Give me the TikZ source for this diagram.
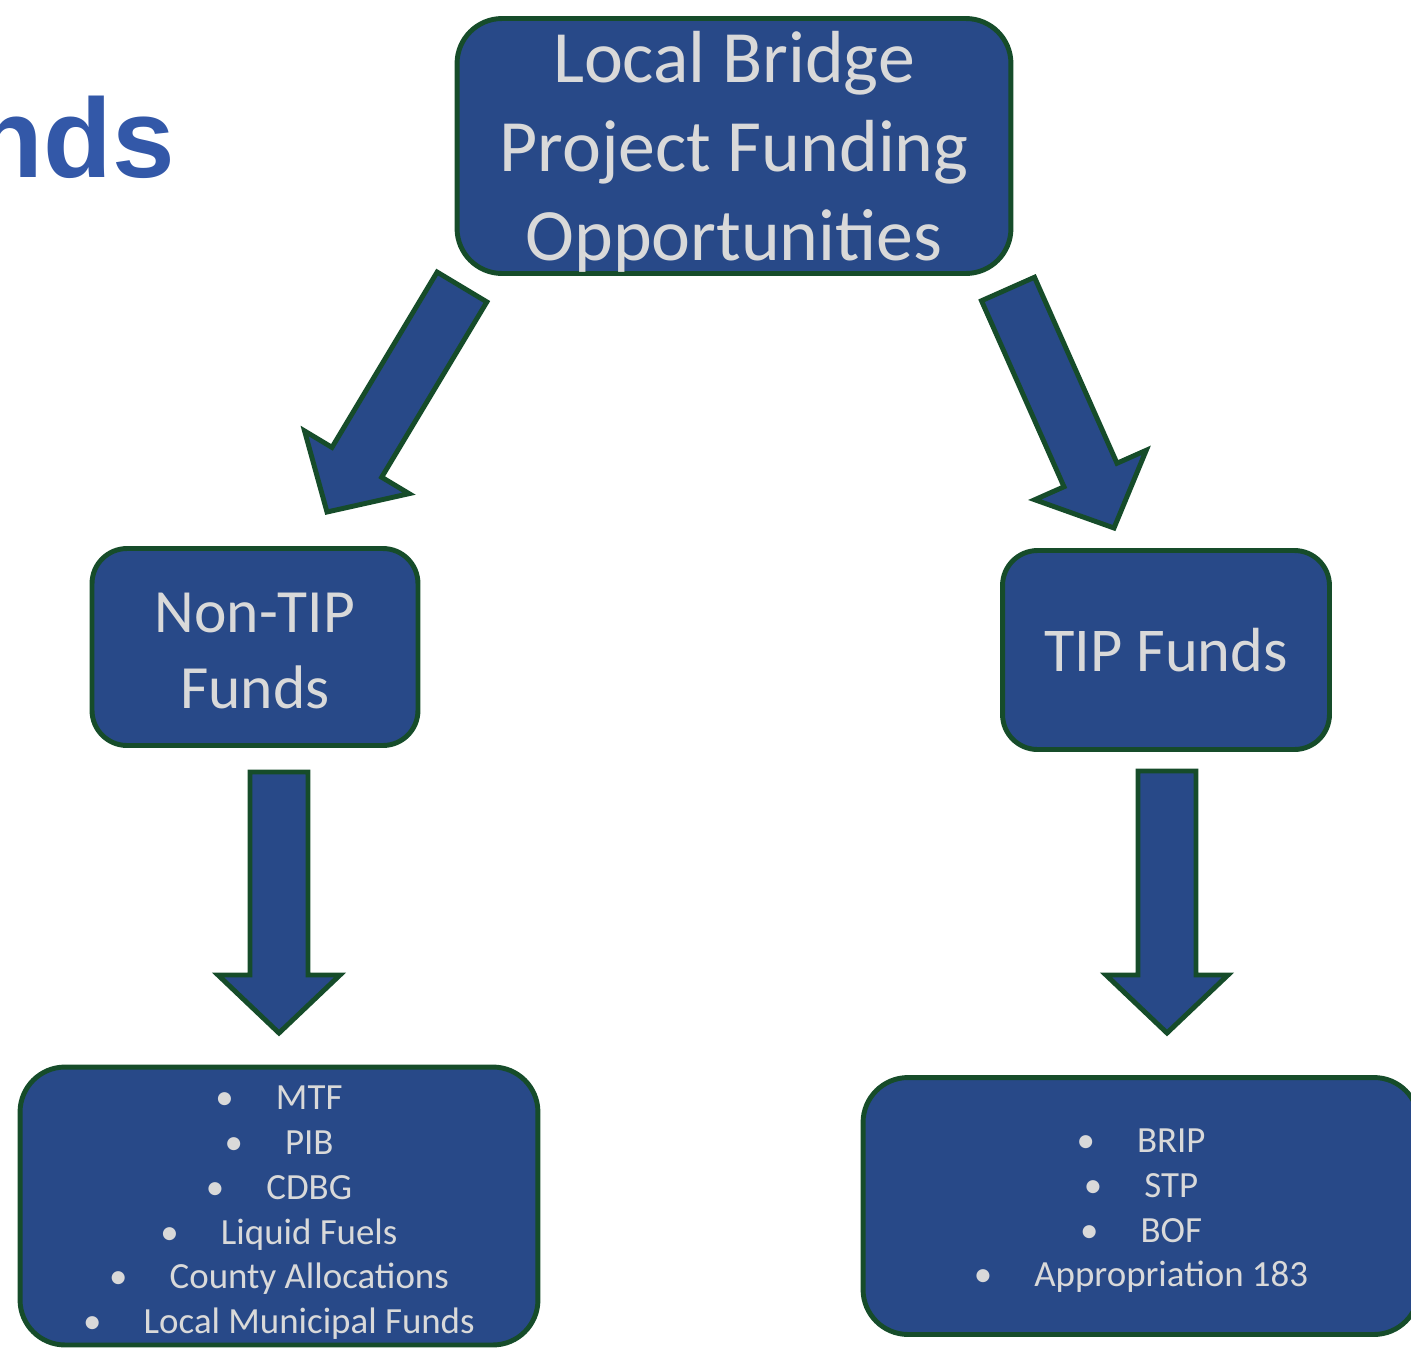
\documentclass[tikz,border=0pt]{standalone}
\usepackage{fontspec}
\setmainfont{Carlito}
\newfontfamily\titlefont{Liberation Sans}
\usetikzlibrary{calc}
\definecolor{boxblue}{RGB}{40,73,136}
\definecolor{edgegreen}{RGB}{22,76,42}
\definecolor{textgray}{RGB}{217,217,217}
\definecolor{titleblue}{RGB}{51,88,168}
\tikzset{
  fundbox/.style={draw=edgegreen, fill=boxblue, line width=2.8pt, text=textgray, align=center, inner sep=0pt},
  fatarrow/.style={draw=edgegreen, fill=boxblue, line width=2.8pt}
}
\newcommand{\itm}[1]{\textbullet\hspace{24pt}#1}
% block arrow from tail #1 to tip #2
\newcommand{\blockarrow}[2]{%
  \path ($(#2)!1.16cm!(#1)$) coordinate (ba-neck);
  \path[fatarrow] ($(#1)!0.58cm!90:(#2)$) -- ($(ba-neck)!0.58cm!90:(#2)$)
    -- ($(ba-neck)!1.22cm!90:(#2)$) -- (#2) -- ($(ba-neck)!1.22cm!-90:(#2)$)
    -- ($(ba-neck)!0.58cm!-90:(#2)$) -- ($(#1)!0.58cm!-90:(#2)$) -- cycle;
}
\begin{document}
\begin{tikzpicture}[x=0.02cm, y=-0.02cm]
\useasboundingbox (0,0) rectangle (1411,1350);
\node[anchor=base east, text=titleblue, font=\titlefont\bfseries\fontsize{64}{64}\selectfont] (title) at (181,177) {nds};

\node[fundbox, rounded corners=0.9cm, minimum width=11.08cm, minimum height=5.1cm, text depth=0pt, font=\fontsize{42}{50.5}\selectfont] (top) at (734,146) {Local Bridge\\Project Funding\\Opportunities};
\node[fundbox, rounded corners=0.7cm, minimum width=6.52cm, minimum height=3.94cm, text depth=0pt, font=\fontsize{35}{43}\selectfont] (nontip) at (255,647) {\rule{0pt}{26.7pt}Non-TIP\\Funds};
\node[fundbox, rounded corners=0.7cm, minimum width=6.54cm, minimum height=3.98cm, font=\fontsize{35.5}{43}\selectfont] (tip) at (1166,650) {TIP Funds};

\node[fundbox, rounded corners=0.9cm, minimum width=10.36cm, minimum height=5.56cm, text depth=0pt, font=\fontsize{21}{25.5}\selectfont] (nonlist) at (279,1206) {\rule{0pt}{17.9pt}\itm{MTF}\\\itm{PIB}\\\itm{CDBG}\\\itm{Liquid Fuels}\\\itm{County Allocations}\\\itm{Local Municipal Funds}};
\node[fundbox, rounded corners=0.9cm, minimum width=11.12cm, minimum height=5.14cm, text depth=0pt, font=\fontsize{21}{25.5}\selectfont] (tiplist) at (1141,1206) {\rule{0pt}{15.6pt}\itm{BRIP}\\\itm{STP}\\\itm{BOF}\\\itm{Appropriation 183}};

\coordinate (top-l) at (462,287);
\coordinate (nontip-in) at (327,512);
\coordinate (top-r) at (1008,289);
\coordinate (tip-in) at (1114,528);
\coordinate (nontip-out) at (279,772);
\coordinate (nonlist-in) at (279,1033);
\coordinate (tip-out) at (1167,771);
\coordinate (tiplist-in) at (1167,1033);

\blockarrow{top-l}{nontip-in}
\blockarrow{top-r}{tip-in}
\blockarrow{nontip-out}{nonlist-in}
\blockarrow{tip-out}{tiplist-in}
\end{tikzpicture}
\end{document}
